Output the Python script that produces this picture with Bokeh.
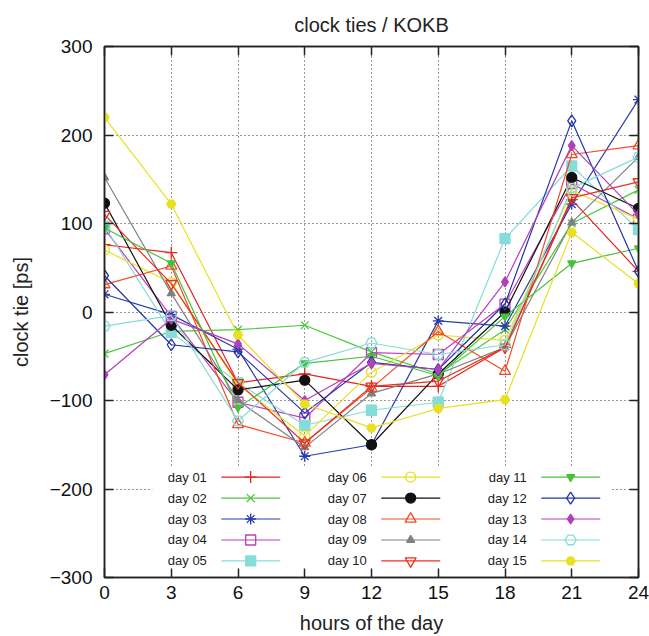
from bokeh.plotting import figure
from bokeh.models import LinearAxis, FixedTicker, Range1d
from bokeh.embed import file_html
from bokeh.resources import INLINE
from bokeh.core.properties import value

hours = [0, 3, 6, 9, 12, 15, 18, 21, 24]
x_ticks = [0, 3, 6, 9, 12, 15, 18, 21, 24]
y_ticks = [-300, -200, -100, 0, 100, 200, 300]

day01 = [76, 67, -80, -70, -84, -84, -40, 127, 46]
day02 = [-47, -22, -20, -15, -45, -70, -20, 100, 138]
day03 = [20, -3, -42, -163, -150, -10, -16, 122, 240]
day04 = [94, -5, -102, -120, -46, -48, 9, 145, 105]
day05 = [97, -23, -80, -128, -111, -102, 83, 165, 93]
day06 = [70, 33, -82, -140, -68, -26, -32, 137, 105]
day07 = [123, -15, -88, -77, -150, -70, 0, 152, 117]
day08 = [31, 52, -127, -148, -86, -22, -67, 178, 188]
day09 = [152, 21, -100, -153, -92, -70, -40, 101, 175]
day10 = [110, 32, -80, -148, -84, -78, -40, 129, 147]
day11 = [95, 55, -108, -58, -50, -72, -5, 55, 72]
day12 = [41, -37, -45, -114, -57, -65, 9, 216, 46]
day13 = [-71, -8, -36, -100, -58, -65, 34, 188, 110]
day14 = [-16, -4, -123, -57, -35, -48, -37, 140, 175]
day15 = [220, 122, -26, -104, -131, -109, -99, 90, 32]

labels = ["day 01", "day 02", "day 03", "day 04", "day 05",
          "day 06", "day 07", "day 08", "day 09", "day 10",
          "day 11", "day 12", "day 13", "day 14", "day 15"]
series = [day01, day02, day03, day04, day05, day06, day07, day08,
          day09, day10, day11, day12, day13, day14, day15]

# style per series: color, marker, filled, size
styles = [
    ("#e8221f", "cross", False, 12),
    ("#4cc83c", "x", False, 11),
    ("#2a3ca6", "asterisk", False, 11),
    ("#c03cc0", "square", False, 10),
    ("#86dcd8", "square", True, 10),
    ("#e8e022", "circle", False, 10),
    ("#111111", "circle", True, 10),
    ("#f24a26", "triangle", False, 11),
    ("#808080", "triangle", True, 8),
    ("#e8301e", "inverted_triangle", False, 11),
    ("#48c03c", "inverted_triangle", True, 8),
    ("#2434a4", "diamond", False, 12),
    ("#b040bc", "diamond", True, 10),
    ("#86dcd8", "hex", False, 11),
    ("#e8e022", "hex", True, 9),
]

FONT = "Liberation Sans"

p = figure(width=649, height=636, output_backend="svg", toolbar_location=None,
           x_range=Range1d(0, 24), y_range=Range1d(-300, 300),
           min_border_left=104, min_border_right=11, min_border_top=46,
           min_border_bottom=59, x_axis_location=None, y_axis_location=None)

p.title.text = "clock ties / KOKB"
p.title.align = "center"
p.title.text_font = FONT
p.title.text_font_size = "20px"
p.title.text_font_style = "normal"
p.title.text_color = "#222222"
p.title.standoff = 22

def make_axis(ticks, label=None, show_labels=True):
    ax = LinearAxis(ticker=FixedTicker(ticks=ticks))
    ax.major_tick_in = 9
    ax.major_tick_out = 0
    ax.minor_tick_in = 0
    ax.minor_tick_out = 0
    ax.axis_line_color = "#222222"
    ax.axis_line_width = 1.5
    ax.major_tick_line_color = "#222222"
    ax.major_tick_line_width = 1.5
    ax.major_label_text_font = FONT
    ax.major_label_text_font_size = "19px"
    ax.major_label_text_color = "#111111"
    if not show_labels:
        ax.major_label_text_alpha = 0
        ax.major_label_text_font_size = "1px"
        ax.major_label_standoff = 0
    if label:
        ax.axis_label = label
        ax.axis_label_text_font = FONT
        ax.axis_label_text_font_size = "20px"
        ax.axis_label_text_font_style = "normal"
        ax.axis_label_text_color = "#222222"
    return ax

bottom = make_axis(x_ticks, "hours of the day")
bottom.major_label_standoff = 8
bottom.axis_label_standoff = 10
left = make_axis(y_ticks, "clock tie [ps]")
left.major_label_standoff = 12
left.axis_label_standoff = 15
top = make_axis(x_ticks, show_labels=False)
right = make_axis(y_ticks, show_labels=False)
p.add_layout(bottom, "below")
p.add_layout(left, "left")
p.add_layout(top, "above")
p.add_layout(right, "right")

p.xgrid.ticker = FixedTicker(ticks=x_ticks)
p.ygrid.ticker = FixedTicker(ticks=y_ticks)
for g in (p.xgrid, p.ygrid):
    g.grid_line_color = "#333333"
    g.grid_line_dash = "1 3"
    g.grid_line_width = 1

p.outline_line_color = "#222222"
p.outline_line_width = 1.5
p.background_fill_color = "white"
p.border_fill_color = "white"

for vals, (col, mk, filled, sz) in zip(series, styles):
    p.line(hours, vals, line_color=col, line_width=1.2)
    p.scatter(hours, vals, marker=mk, size=sz, line_color=col, line_width=1.3,
              fill_color=col if filled else None)

# legend box (layout in data units)
LEG_LEFT, LEG_RIGHT, LEG_TOP, LEG_BOTTOM = 2.15, 22.8, -174, -292
LEG_TEXT_X = 4.6
LEG_LINE_X0, LEG_LINE_X1, LEG_MARK_X = 5.25, 7.9, 6.57
LEG_COL_STEP = 7.19
LEG_Y0 = -186.5
LEG_ROW_STEP = -23.7

p.quad(left=[LEG_LEFT], right=[LEG_RIGHT], top=[LEG_TOP], bottom=[LEG_BOTTOM],
       fill_color="white", line_color=None)

for i, (lab, (col, mk, filled, sz)) in enumerate(zip(labels, styles)):
    c, r = divmod(i, 5)
    dx = c * LEG_COL_STEP
    yy = LEG_Y0 + r * LEG_ROW_STEP
    p.text([LEG_TEXT_X + dx], [yy], text=[lab], text_align="right",
           text_baseline="middle", text_font=value(FONT),
           text_font_size="13px", text_color="#222222")
    p.line([LEG_LINE_X0 + dx, LEG_LINE_X1 + dx], [yy, yy], line_color=col,
           line_width=1.2)
    p.scatter([LEG_MARK_X + dx], [yy], marker=mk, size=sz, line_color=col,
              line_width=1.3, fill_color=col if filled else None)

open("out.html", "w").write(file_html(p, INLINE))
